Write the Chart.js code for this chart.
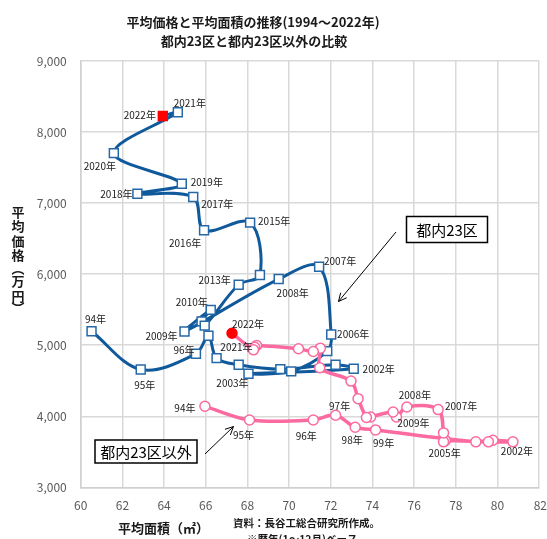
<!DOCTYPE html>
<html>
<head>
<meta charset="utf-8">
<script src="https://cdn.jsdelivr.net/npm/chart.js@4.4.1/dist/chart.umd.min.js"></script>
<style>
  html, body { margin: 0; padding: 0; background: #fff; overflow: hidden; }
</style>
</head>
<body>
<canvas id="chart" width="547" height="539"></canvas>
<script>
// 1994〜2022年
const years = [1994, 1995, 1996, 1997, 1998, 1999, 2000, 2001, 2002, 2003, 2004, 2005, 2006, 2007,
  2008, 2009, 2010, 2011, 2012, 2013, 2014, 2015, 2016, 2017, 2018, 2019, 2020, 2021, 2022];

// 都内23区: 平均面積(㎡), 平均価格(万円)
const tokyoArea = [60.52, 62.88, 65.53, 66.13, 66.52, 67.58, 69.58, 72.23, 73.10, 68.05, 70.10, 71.83, 72.02, 71.44,
  69.50, 64.98, 66.24, 65.80, 65.95, 67.58, 68.60, 68.13, 65.92, 65.40, 62.72, 64.85, 61.59, 64.66, 63.94];
const tokyoPrice = [5196, 4659, 4879, 5132, 4818, 4725, 4663, 4725, 4669, 4599, 4631, 4916, 5150, 6104,
  5931, 5192, 5497, 5335, 5275, 5851, 5987, 6725, 6618, 7085, 7132, 7272, 7703, 8278, 8226];

// 都内23区以外
const otherArea = [65.96, 68.10, 71.16, 72.23, 73.17, 74.15, 78.96, 79.78, 80.74, 79.56, 77.50, 77.41, 77.41, 77.15,
  75.65, 75.15, 74.99, 73.91, 73.71, 73.31, 72.97, 71.47, 71.50, 71.16, 70.45, 68.44, 68.35, 68.29, 67.26];
const otherPrice = [4140, 3948, 3948, 4014, 3846, 3808, 3640, 3663, 3640, 3640, 3660, 3640, 3766, 4094,
  4130, 3990, 4060, 3990, 3982, 4248, 4495, 4683, 4958, 4912, 4950, 4996, 4970, 4935, 5168];

// ラベルを付ける年
const tokyoTagYears = [1994, 1995, 1996, 2002, 2003, 2006, 2007, 2008, 2009, 2010, 2013, 2015, 2016, 2017, 2018, 2019, 2020, 2021, 2022];
const otherTagYears = [1994, 1995, 1996, 1997, 1998, 1999, 2002, 2005, 2007, 2008, 2009, 2021, 2022];

const xTicks = [60, 62, 64, 66, 68, 70, 72, 74, 76, 78, 80, 82];

const BLUE = '#105a9c';
const PINK = '#fb6aa0';
const RED = '#ff0000';
const jp = '"Noto Sans CJK JP", "Noto Sans", sans-serif';

function tagText(y) {
  return y < 2000 ? String(y).slice(2) + '年' : y + '年';
}
function tagsFor(list) {
  return years.map(y => list.includes(y) ? tagText(y) : '');
}
function points(xs, ys) {
  return xs.map((x, i) => ({ x: x, y: ys[i] }));
}
const lastRed = (base) => years.map((y, i) => i === years.length - 1 ? RED : base);

// label offsets (px) from each point
const tagOffsets = [
  { // 都内23区以外
    '94年': [-20, 2], '95年': [-6, 15], '96年': [-7, 16], '97年': [4, -9], '98年': [-3, 13],
    '99年': [8, 13], '2002年': [4, 9], '2005年': [1, 11], '2007年': [23, -3], '2008年': [8, -12],
    '2009年': [17, 6], '2021年': [-17, -3], '2022年': [16, -9]
  },
  { // 都内23区
    '94年': [4, -12], '95年': [4, 16], '96年': [-12, -4], '2003年': [-16, 10], '2002年': [25, 0],
    '2006年': [22, 0], '2007年': [21, -6], '2008年': [14, 14], '2009年': [-23, 5], '2010年': [-19, -8],
    '2013年': [-24, -5], '2015年': [24, -1], '2016年': [-19, 13], '2017年': [24, 7], '2018年': [-21, 0],
    '2019年': [25, -2], '2020年': [-14, 13], '2021年': [12, -9], '2022年': [-23, -1]
  }
];

const pointTags = {
  id: 'pointTags',
  afterDatasetsDraw(chart) {
    const ctx = chart.ctx;
    ctx.save();
    ctx.font = '10px ' + jp;
    ctx.fillStyle = '#1a1a1a';
    ctx.textAlign = 'center';
    ctx.textBaseline = 'middle';
    chart.data.datasets.forEach((ds, i) => {
      const meta = chart.getDatasetMeta(i);
      ds.tags.forEach((t, j) => {
        if (!t) return;
        const p = meta.data[j];
        const o = tagOffsets[i][t] || [0, -10];
        ctx.fillText(t, p.x + o[0], p.y + o[1]);
      });
    });
    ctx.restore();
  }
};

function arrow(ctx, x1, y1, x2, y2) {
  ctx.beginPath();
  ctx.moveTo(x1, y1);
  ctx.lineTo(x2, y2);
  ctx.stroke();
  const a = Math.atan2(y2 - y1, x2 - x1), h = 9;
  ctx.beginPath();
  ctx.moveTo(x2 - h * Math.cos(a - 0.45), y2 - h * Math.sin(a - 0.45));
  ctx.lineTo(x2, y2);
  ctx.lineTo(x2 - h * Math.cos(a + 0.45), y2 - h * Math.sin(a + 0.45));
  ctx.stroke();
}

function box(ctx, text, x, y, w, h) {
  ctx.fillStyle = '#fff';
  ctx.fillRect(x, y, w, h);
  ctx.lineWidth = 1.5;
  ctx.strokeStyle = '#000';
  ctx.strokeRect(x, y, w, h);
  ctx.fillStyle = '#000';
  ctx.font = '15px ' + jp;
  ctx.textAlign = 'center';
  ctx.textBaseline = 'middle';
  ctx.fillText(text, x + w / 2, y + h / 2 + 1);
}

const decorations = {
  id: 'decorations',
  afterDraw(chart) {
    const ctx = chart.ctx;
    const area = chart.chartArea;
    ctx.save();

    // title
    ctx.fillStyle = '#1a1a1a';
    ctx.textAlign = 'center';
    ctx.textBaseline = 'middle';
    ctx.font = 'bold 13px ' + jp;
    ctx.fillText('平均価格と平均面積の推移(1994～2022年)', 253, 22);
    ctx.fillText('都内23区と都内23区以外の比較', 254, 41);

    // y axis title, stacked vertically
    const yChars = ['平', '均', '価', '格', '︵', '万', '円', '︶'];
    const yPos = [212, 226.5, 241, 255.5, 268, 281.5, 296, 308];
    yChars.forEach((c, i) => ctx.fillText(c, 18, yPos[i]));

    // x axis title
    ctx.fillText('平均面積（㎡）', 163.5, 528);

    // source note
    ctx.font = 'bold 10.5px ' + jp;
    ctx.textAlign = 'left';
    ctx.fillText('資料：長谷工総合研究所作成。', 233, 523);
    ctx.fillText('※暦年(1～12月)ベース', 247, 539);

    // last x tick, pulled inside
    ctx.font = '12px ' + jp;
    ctx.fillStyle = '#595959';
    ctx.textAlign = 'right';
    ctx.fillText(String(xTicks[xTicks.length - 1]), 547, area.bottom + 18);

    // callouts
    ctx.strokeStyle = '#000';
    ctx.lineWidth = 1;
    arrow(ctx, 396, 232, 338.5, 301.5);
    arrow(ctx, 205, 454, 233.5, 426.5);
    box(ctx, '都内23区', 406.5, 216.5, 81, 26);
    box(ctx, '都内23区以外', 95, 440, 102, 23);

    ctx.restore();
  }
};

new Chart(document.getElementById('chart'), {
  type: 'scatter',
  data: {
    datasets: [
      {
        label: '都内23区以外',
        data: points(otherArea, otherPrice),
        tags: tagsFor(otherTagYears),
        showLine: true,
        borderColor: PINK,
        borderWidth: 3.5,
        tension: 0.35,
        pointStyle: 'circle',
        pointRadius: 5,
        pointBorderWidth: 1.5,
        pointBackgroundColor: years.map((y, i) => i === years.length - 1 ? RED : '#fff'),
        pointBorderColor: lastRed(PINK)
      },
      {
        label: '都内23区',
        data: points(tokyoArea, tokyoPrice),
        tags: tagsFor(tokyoTagYears),
        showLine: true,
        borderColor: BLUE,
        borderWidth: 3,
        tension: 0.35,
        pointStyle: 'rect',
        pointRadius: 6.3,
        pointBorderWidth: 1.5,
        pointBackgroundColor: years.map((y, i) => i === years.length - 1 ? RED : '#fff'),
        pointBorderColor: lastRed('#2468a8')
      }
    ]
  },
  options: {
    responsive: false,
    animation: false,
    devicePixelRatio: 1,
    layout: {
      padding: { top: 61, right: 1, bottom: 0, left: 0 }
    },
    plugins: {
      legend: { display: false },
      tooltip: { enabled: false },
      title: { display: false }
    },
    scales: {
      x: {
        type: 'linear',
        min: 60,
        max: 82,
        afterBuildTicks: (scale) => { scale.ticks = xTicks.map(v => ({ value: v })); },
        afterFit: (scale) => { scale.height = 51.7; scale.paddingRight = 0; },
        grid: { color: '#d9d9d9', lineWidth: 1.5, drawTicks: false },
        border: { color: '#d0d0d0', width: 1.5 },
        ticks: {
          padding: 11,
          font: { family: jp, size: 12 },
          color: (c) => c.index === xTicks.length - 1 ? 'rgba(0,0,0,0)' : '#595959'
        }
      },
      y: {
        min: 3000,
        max: 9000,
        afterFit: (scale) => { scale.width = 80.7; },
        grid: { color: '#d9d9d9', lineWidth: 1.5, drawTicks: false },
        border: { color: '#d0d0d0', width: 1.5 },
        ticks: {
          stepSize: 1000,
          padding: 14,
          font: { family: jp, size: 12 },
          color: '#595959',
          callback: (v) => v.toLocaleString('en-US')
        }
      }
    }
  },
  plugins: [pointTags, decorations]
});
</script>
</body>
</html>
